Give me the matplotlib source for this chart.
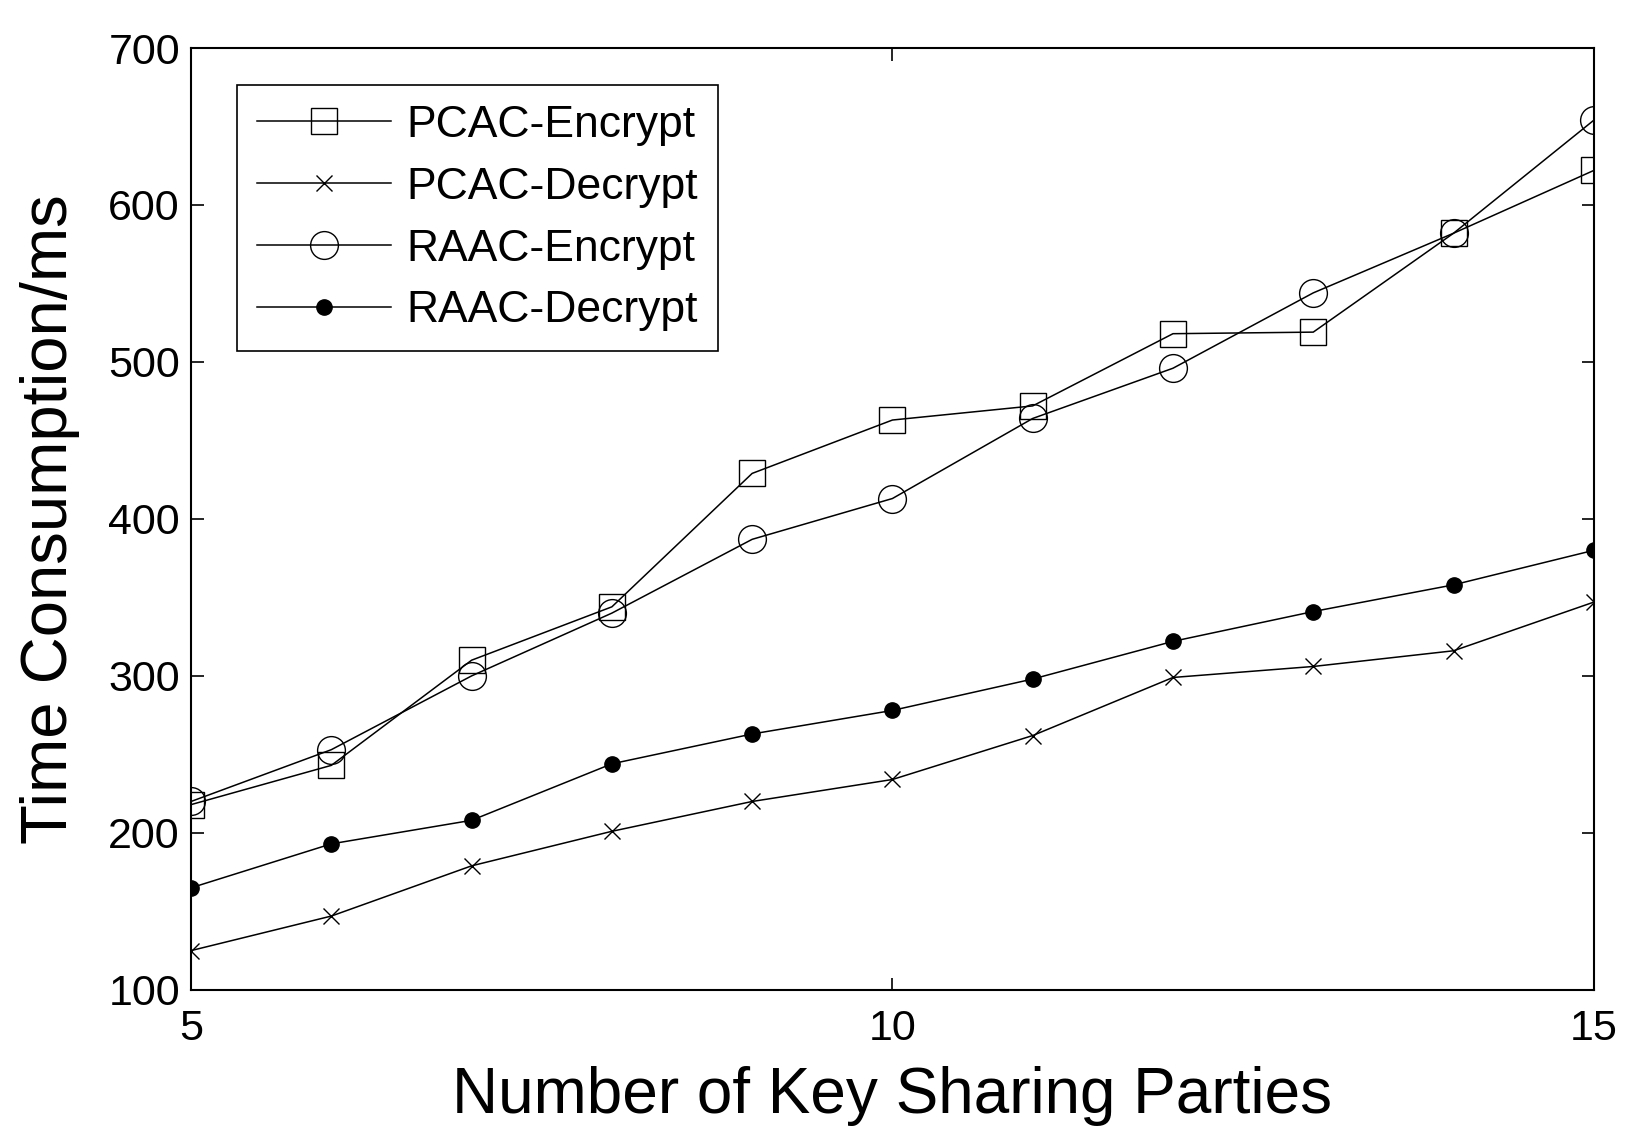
import numpy as np
import matplotlib
matplotlib.use("Agg")
import matplotlib.pyplot as plt

plt.rcParams['font.family'] = ['Liberation Sans', 'DejaVu Sans']

parties = np.arange(5, 16)
pcac_enc = [218, 243, 310, 344, 429, 463, 472, 518, 519, 582, 622]
pcac_dec = [125, 147, 179, 201, 220, 234, 262, 299, 306, 316, 347]
raac_enc = [220, 253, 300, 340, 387, 413, 464, 496, 544, 582, 654]
raac_dec = [165, 193, 208, 244, 263, 278, 298, 322, 341, 358, 380]

fig = plt.figure(figsize=(16.33, 11.43), dpi=100)
ax = fig.add_axes([0.117, 0.134, 0.859, 0.824])

ax.plot(parties, pcac_enc, 'k-', marker='s', mfc='none', ms=19, mew=1.0, lw=1.1,
        label='PCAC-Encrypt')
ax.plot(parties, pcac_dec, 'k-', marker='x', ms=11, mew=1.0, lw=1.1,
        label='PCAC-Decrypt')
ax.plot(parties, raac_enc, 'k-', marker='o', mfc='none', ms=20, mew=1.0, lw=1.1,
        label='RAAC-Encrypt')
ax.plot(parties, raac_dec, 'k-', marker='o', mfc='k', ms=11, mew=1.0, lw=1.1,
        label='RAAC-Decrypt')

ax.set_xlim(5, 15)
ax.set_ylim(100, 700)
ax.set_xticks([5, 10, 15])
ax.set_yticks(np.arange(100, 701, 100))
ax.tick_params(direction='in', length=9, width=1.2, top=True, right=True,
               labelsize=31, pad=8)
ax.tick_params(axis='x', pad=14)
for s in ax.spines.values():
    s.set_linewidth(1.5)

ax.set_xlabel('Number of Key Sharing Parties', fontsize=46, labelpad=12)
ax.set_ylabel('Time Consumption/ms', fontsize=47, labelpad=20)

leg = ax.legend(loc='upper left', bbox_to_anchor=(0.033, 0.961), borderaxespad=0,
                fontsize=32, fancybox=False, edgecolor='k', framealpha=1,
                handlelength=3.0, borderpad=0.45, labelspacing=0.47,
                handletextpad=0.35)
leg.get_frame().set_linewidth(1.2)

fig.savefig('out.png', dpi=100)
